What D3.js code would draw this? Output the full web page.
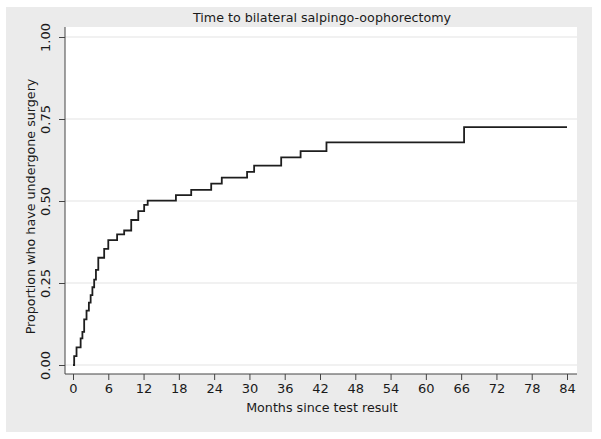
<!DOCTYPE html>
<html>
<head>
<meta charset="utf-8">
<script src="https://cdn.jsdelivr.net/npm/d3@7"></script>
<style>
  html, body { margin: 0; padding: 0; background: #ffffff; }
  svg { display: block; }
  text { font-family: "DejaVu Sans", "Liberation Sans", sans-serif; fill: #1a1a1a; }
</style>
</head>
<body>
<svg id="chart" width="601" height="439"></svg>
<script>
// ---- Data ----
const title = "Time to bilateral salpingo-oophorectomy";
const xTitle = "Months since test result";
const yTitle = "Proportion who have undergone surgery";
const xTicks = [0, 6, 12, 18, 24, 30, 36, 42, 48, 54, 60, 66, 72, 78, 84];
const yTicks = [0, 0.25, 0.5, 0.75, 1];
const months = [0, 0.2, 0.6, 1.3, 1.6, 1.9, 2.3, 2.7, 3.0, 3.3, 3.6, 3.9, 4.3, 5.3, 6.0, 7.5, 8.7, 9.9, 11.1, 12.1, 12.7, 17.5, 20.1, 23.5, 25.3, 29.6, 30.8, 35.4, 38.7, 43.1, 66.5, 84];
const proportion = [0, 0.027, 0.054, 0.081, 0.101, 0.139, 0.166, 0.19, 0.213, 0.237, 0.26, 0.29, 0.327, 0.354, 0.381, 0.398, 0.41, 0.442, 0.469, 0.488, 0.501, 0.518, 0.534, 0.553, 0.571, 0.589, 0.608, 0.633, 0.652, 0.679, 0.725, 0.725];

const FONT = "DejaVu Sans, Liberation Sans, sans-serif";
const svg = d3.select("#chart");

// outer graph region
svg.append("rect").attr("x", 6).attr("y", 7).attr("width", 586).attr("height", 425).attr("fill", "#ebebeb");

const plot = { left: 65, right: 577, top: 27, bottom: 374 };
svg.append("rect").attr("x", plot.left).attr("y", plot.top)
  .attr("width", plot.right - plot.left).attr("height", plot.bottom - plot.top).attr("fill", "#ffffff");

const x = d3.scaleLinear().domain([0, 84]).range([73, 567]);
const y = d3.scaleLinear().domain([0, 1]).range([365, 37]);

// gridlines
svg.append("g").selectAll("line").data(yTicks).join("line")
  .attr("x1", plot.left).attr("x2", plot.right)
  .attr("y1", d => y(d)).attr("y2", d => y(d))
  .attr("stroke", "#e4e4e4").attr("stroke-width", 1.2);

// y axis
const yAxis = svg.append("g").attr("transform", `translate(${plot.left},0)`)
  .call(d3.axisLeft(y).tickValues(yTicks).tickFormat(d3.format(".2f")).tickSize(6).tickPadding(4));
yAxis.select(".domain").attr("d", `M0,${plot.top}V${plot.bottom}`).attr("stroke", "#444");
yAxis.selectAll(".tick line").attr("stroke", "#444");
yAxis.selectAll(".tick text")
  .attr("font-size", 13).attr("fill", "#1a1a1a").attr("font-family", FONT)
  .attr("text-anchor", "middle").attr("dy", "0.35em").attr("x", 0)
  .attr("transform", "translate(-20,0) rotate(-90)");

// x axis
const xAxis = svg.append("g").attr("transform", `translate(0,${plot.bottom})`)
  .call(d3.axisBottom(x).tickValues(xTicks).tickFormat(d3.format("d")).tickSize(6).tickPadding(4));
xAxis.select(".domain").attr("d", `M${plot.left},0H${plot.right}`).attr("stroke", "#444");
xAxis.selectAll(".tick line").attr("stroke", "#444");
xAxis.selectAll(".tick text").attr("font-size", 13).attr("fill", "#1a1a1a").attr("font-family", FONT);

// step curve
const pts = months.map((m, i) => [m, proportion[i]]);
svg.append("path").datum(pts)
  .attr("d", d3.line().x(d => x(d[0])).y(d => y(d[1])).curve(d3.curveStepAfter))
  .attr("fill", "none").attr("stroke", "#1e1e1e").attr("stroke-width", 1.8);

// titles
svg.append("text").attr("x", 322).attr("y", 22).attr("text-anchor", "middle")
  .attr("font-size", 12.7).text(title);
svg.append("text").attr("x", 322).attr("y", 412).attr("text-anchor", "middle")
  .attr("font-size", 12.7).text(xTitle);
svg.append("text").attr("transform", `translate(35,${(plot.top + plot.bottom) / 2 + 6}) rotate(-90)`)
  .attr("text-anchor", "middle").attr("font-size", 12.7).text(yTitle);
</script>
</body>
</html>
